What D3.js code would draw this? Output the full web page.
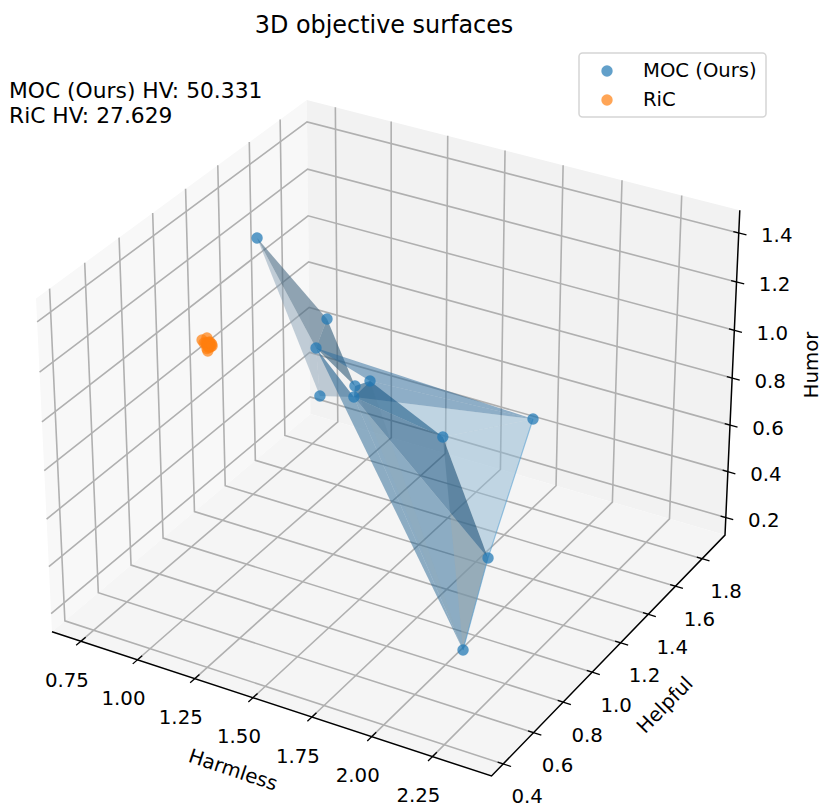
<!DOCTYPE html>
<html>
<head>
<meta charset="utf-8">
<title>3D objective surfaces</title>
<script src="https://cdn.jsdelivr.net/npm/d3@7"></script>
<style>
  body { margin: 0; background: #fff; }
  text { font-family: "DejaVu Sans", sans-serif; fill: #000; }
</style>
</head>
<body>
<svg id="chart" width="822" height="808"></svg>
<script>
//Data
const mocHarmless = [0.963, 1.119, 1.246, 1.256, 1.285, 1.278, 1.315, 1.630, 1.943, 1.917, 2.028];
const mocHelpful  = [1.156, 1.366, 1.108, 1.115, 1.299, 1.302, 1.353, 1.356, 1.472, 1.215, 0.872];
const mocHumor    = [1.40, 1.00, 1.05, 0.85, 0.80, 0.75, 0.80, 0.65, 0.75, 0.30, 0.15];

const ricHarmless = [0.797, 0.805, 0.831, 0.854, 0.861, 0.816, 0.837, 0.822, 0.830, 0.840, 0.845, 0.842, 0.850, 0.835, 0.845, 0.852, 0.848, 0.828];
const ricHelpful  = [1.036, 1.055, 1.037, 1.018, 0.982, 1.022, 1.017, 1.025, 1.020, 1.020, 1.015, 1.008, 1.005, 1.030, 1.028, 1.012, 0.995, 1.032];
const ricHumor    = [1, 1, 1, 1, 1, 1, 1, 1, 1, 1, 1, 1, 1, 1, 1, 1, 1, 1];

//triangles of the MOC surface, as indexes into the moc arrays, back to front
const surfaceTriangles = [
  [0, 2, 3], [2, 3, 5], [0, 1, 2], [1, 2, 4],
  [5, 7, 8], [7, 8, 9],
  [2, 5, 10], [5, 9, 10], [7, 9, 10], [4, 6, 10],
  [2, 6, 8], [5, 6, 8],
  [5, 7, 9], [5, 6, 7], [4, 5, 6]
];
const triangleShade = [
  '#879fb3', '#879fb3', '#4a6a84', '#2f5a78',
  '#8bb5d2', '#8bb5d2',
  '#236391', '#236391', '#a0acaf', '#a0acaf',
  '#29699b', '#29699b',
  '#0f5080', '#0f5080', '#0f5080'
];
const triangleOpacity = [
  0.5, 0.5, 0.6, 0.6,
  0.5, 0.5,
  0.5, 0.5, 0.5, 0.12,
  0.5, 0.5,
  0.58, 0.55, 0.55
];
//outer rim that shows stronger in the picture
const surfaceRim = [8, 9, 10];

const xTicks = [0.75, 1.00, 1.25, 1.50, 1.75, 2.00, 2.25];
const yTicks = [0.4, 0.6, 0.8, 1.0, 1.2, 1.4, 1.6, 1.8];
const zTicks = [0.2, 0.4, 0.6, 0.8, 1.0, 1.2, 1.4];

const xLimits = [0.6207, 2.49];
const yLimits = [0.324, 1.976];
const zLimits = [0.123, 1.492];

//Scales: data -> box coordinates centred on the origin (matplotlib 4:4:3 box)
const halfXY = 0.59524, halfZ = 0.44643;
const xBox = d3.scaleLinear(xLimits, [-halfXY, halfXY]);
const yBox = d3.scaleLinear(yLimits, [-halfXY, halfXY]);
const zBox = d3.scaleLinear(zLimits, [-halfZ, halfZ]);

//projected plane -> pixels
const xPixel = d3.scaleLinear([-0.1, 0.1], [394.7 - 422.95, 394.7 + 422.95]);
const yPixel = d3.scaleLinear([-0.1, 0.1], [421.7 + 425.2, 421.7 - 425.2]);

//view for azim=-60 elev=30 dist=10
function project(x, y, z) {
  const q = [xBox(x), yBox(y), zBox(z)];
  const xv = 0.8660254 * q[0] + 0.5 * q[1];
  const yv = -0.25 * q[0] + 0.4330127 * q[1] + 0.8660254 * q[2];
  const w = 10 - (0.4330127 * q[0] - 0.75 * q[1] + 0.5 * q[2]);
  return [xPixel(xv / w), yPixel(yv / w)];
}

const line3d = d3.line();
const path3d = pts => line3d(pts.map(p => project(p[0], p[1], p[2])));
const mocPoint = k => [mocHarmless[k], mocHelpful[k], mocHumor[k]];

const svg = d3.select('#chart');
const [x0, x1] = xLimits, [y0, y1] = yLimits, [z0, z1] = zLimits;

//Panes
const panes = [
  {fill: '#f8f8f8', pts: [[x0, y0, z0], [x0, y1, z0], [x0, y1, z1], [x0, y0, z1]]},
  {fill: '#f2f2f2', pts: [[x0, y1, z0], [x1, y1, z0], [x1, y1, z1], [x0, y1, z1]]},
  {fill: '#f5f5f5', pts: [[x0, y0, z0], [x1, y0, z0], [x1, y1, z0], [x0, y1, z0]]}
];
svg.append('g').selectAll('path').data(panes).join('path')
  .attr('d', d => path3d(d.pts) + 'Z')
  .attr('fill', d => d.fill);

//Grid
const grid = svg.append('g').attr('fill', 'none').attr('stroke', '#b0b0b0').attr('stroke-width', 1.6);
grid.selectAll('.gx').data(xTicks).join('path').attr('class', 'gx')
  .attr('d', t => path3d([[t, y0, z0], [t, y1, z0], [t, y1, z1]]));
grid.selectAll('.gy').data(yTicks).join('path').attr('class', 'gy')
  .attr('d', t => path3d([[x1, t, z0], [x0, t, z0], [x0, t, z1]]));
grid.selectAll('.gz').data(zTicks).join('path').attr('class', 'gz')
  .attr('d', t => path3d([[x0, y0, t], [x0, y1, t], [x1, y1, t]]));

//Axis lines and tick marks
const axes = svg.append('g').attr('fill', 'none').attr('stroke', '#000').attr('stroke-width', 1.5);
axes.append('path').attr('d', path3d([[x0, y0, z0], [x1, y0, z0], [x1, y1, z0], [x1, y1, z1]]));

const dy = y1 - y0, dx = x1 - x0;
axes.selectAll('.tx').data(xTicks).join('path').attr('class', 'tx').attr('stroke-width', 1.3)
  .attr('d', t => path3d([[t, y0 - 0.017 * dy, z0], [t, y0 + 0.017 * dy, z0]]));
axes.selectAll('.ty').data(yTicks).join('path').attr('class', 'ty').attr('stroke-width', 1.3)
  .attr('d', t => path3d([[x1 - 0.012 * dx, t, z0], [x1 + 0.017 * dx, t, z0]]));
axes.selectAll('.tz').data(zTicks).join('path').attr('class', 'tz').attr('stroke-width', 1.3)
  .attr('d', t => path3d([[x1 - 0.012 * dx, y1, t], [x1 + 0.017 * dx, y1, t]]));

//Tick labels
const tickSize = 19.8;
function tickLabels(data, cls, pos, fmt, off) {
  svg.append('g').selectAll('text').data(data).join('text')
    .attr('class', cls)
    .attr('x', t => pos(t)[0] + off[0])
    .attr('y', t => pos(t)[1] + off[1])
    .attr('text-anchor', 'middle').attr('dominant-baseline', 'central')
    .attr('font-size', tickSize)
    .text(fmt);
}
tickLabels(xTicks, 'xl', t => project(t, y0, z0), d3.format('.2f'), [-14, 39]);
tickLabels(yTicks, 'yl', t => project(x1, t, z0), d3.format('.1f'), [24, 33]);
tickLabels(zTicks, 'zl', t => project(x1, y1, t), d3.format('.1f'), [38, 3]);

//Surface
svg.append('g').selectAll('path').data(surfaceTriangles).join('path')
  .attr('d', tri => path3d(tri.map(mocPoint)) + 'Z')
  .attr('fill', (tri, i) => triangleShade[i])
  .attr('fill-opacity', (tri, i) => triangleOpacity[i]);
svg.append('path').attr('d', path3d(surfaceRim.map(mocPoint)))
  .attr('fill', 'none').attr('stroke', '#4f9bd0').attr('stroke-opacity', 0.55).attr('stroke-width', 1.2);

//Points
const dots = svg.append('g');
dots.selectAll('.moc').data(mocHarmless).join('circle').attr('class', 'moc')
  .attr('cx', (d, i) => project(d, mocHelpful[i], mocHumor[i])[0])
  .attr('cy', (d, i) => project(d, mocHelpful[i], mocHumor[i])[1])
  .attr('r', 5.7).attr('fill', '#1f77b4').attr('fill-opacity', 0.72);
dots.selectAll('.ric').data(ricHarmless).join('circle').attr('class', 'ric')
  .attr('cx', (d, i) => project(d, ricHelpful[i], ricHumor[i])[0])
  .attr('cy', (d, i) => project(d, ricHelpful[i], ricHumor[i])[1])
  .attr('r', 5.7).attr('fill', '#ff7f0e').attr('fill-opacity', 0.7);

//Titles
svg.append('text').attr('x', 384).attr('y', 33).attr('text-anchor', 'middle').attr('font-size', 23.9)
  .text('3D objective surfaces');
svg.append('text').attr('x', 9).attr('y', 98).attr('font-size', 21.8).text('MOC (Ours) HV: 50.331');
svg.append('text').attr('x', 9).attr('y', 122.5).attr('font-size', 21.8).text('RiC HV: 27.629');

svg.append('text').attr('transform', 'translate(233,770) rotate(18.4)')
  .attr('text-anchor', 'middle').attr('dominant-baseline', 'central').attr('font-size', tickSize).text('Harmless');
svg.append('text').attr('transform', 'translate(665,705) rotate(-45.6)')
  .attr('text-anchor', 'middle').attr('dominant-baseline', 'central').attr('font-size', tickSize).text('Helpful');
svg.append('text').attr('transform', 'translate(811,365) rotate(-90)')
  .attr('text-anchor', 'middle').attr('dominant-baseline', 'central').attr('font-size', tickSize).text('Humor');

//Legend
const legend = svg.append('g');
legend.append('rect').attr('x', 579).attr('y', 53).attr('width', 187).attr('height', 64).attr('rx', 3.5)
  .attr('fill', '#fff').attr('fill-opacity', 0.8).attr('stroke', '#d5d5d5').attr('stroke-width', 1.5);
const legendNames = ['MOC (Ours)', 'RiC'];
const legendColors = ['#1f77b4', '#ff7f0e'];
const legendY = d3.scalePoint(legendNames, [71, 100]);
legend.selectAll('circle').data(legendNames).join('circle')
  .attr('cx', 607).attr('cy', d => legendY(d)).attr('r', 5.7)
  .attr('fill', (d, i) => legendColors[i]).attr('fill-opacity', 0.7);
legend.selectAll('text').data(legendNames).join('text')
  .attr('x', 643).attr('y', d => legendY(d) + 6).attr('font-size', 19.6).text(d => d);
</script>
</body>
</html>
